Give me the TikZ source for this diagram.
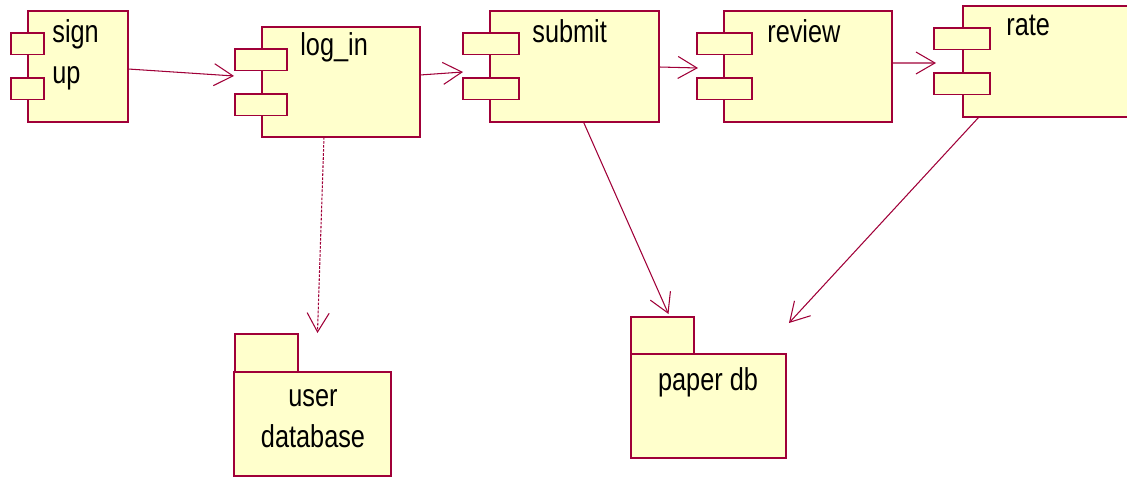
\documentclass[tikz,border=0pt]{standalone}
\usepackage{fontspec}
\setmainfont{Liberation Sans}[FakeStretch=0.8]
\usetikzlibrary{arrows.meta,calc}

\definecolor{roseline}{RGB}{160,0,56}
\definecolor{rosefill}{RGB}{255,255,204}

\begin{document}
\begin{tikzpicture}[
    x=0.02cm, y=-0.02cm,
    every node/.style={font=\fontsize{18}{23}\selectfont},
    body/.style={rectangle, draw=roseline, fill=rosefill, line width=1.1pt, anchor=north west, inner sep=0pt, outer sep=0pt},
    port/.style={body, minimum height=0.43cm},
    tab/.style={body, minimum width=1.26cm},
    lbl/.style={inner sep=0pt},
    arrow/.style={draw=roseline, line width=0.6pt, -{Straight Barb[length=3.8mm, width=4.4mm]}},
    dottedarrow/.style={arrow, dash pattern=on 1.5pt off 0.8pt}
]
\useasboundingbox (0,0) rectangle (1127,477);

% === Components ===
% sign up
\node[body, minimum width=2cm, minimum height=2.22cm] (signup) at (28,11) {};
\node[port, minimum width=0.66cm] (signupa) at (11,33) {};
\node[port, minimum width=0.66cm] (signupb) at (11,78) {};
\node[lbl, anchor=base west, align=left] (signuptext) at (52,83) {sign\\up};

% log_in
\node[body, minimum width=3.16cm, minimum height=2.2cm] (login) at (262,27) {};
\node[port, minimum width=1.04cm] (logina) at (235,49) {};
\node[port, minimum width=1.04cm] (loginb) at (235,94) {};
\node[lbl, anchor=base west] (logintext) at (300,55) {log\_in};

% submit
\node[body, minimum width=3.38cm, minimum height=2.22cm] (submit) at (490,11) {};
\node[port, minimum width=1.12cm] (submita) at (463,33) {};
\node[port, minimum width=1.12cm] (submitb) at (463,78) {};
\node[lbl, anchor=base west] (submittext) at (532,42) {submit};

% review
\node[body, minimum width=3.36cm, minimum height=2.22cm] (review) at (724,11) {};
\node[port, minimum width=1.1cm] (reviewa) at (697,33) {};
\node[port, minimum width=1.1cm] (reviewb) at (697,78) {};
\node[lbl, anchor=base west] (reviewtext) at (767,42) {review};

% rate
\node[body, minimum width=3.6cm, minimum height=2.22cm] (rate) at (963,6) {};
\node[port, minimum width=1.12cm] (ratea) at (934,28) {};
\node[port, minimum width=1.12cm] (rateb) at (934,73) {};
\node[lbl, anchor=base west] (ratetext) at (1006,35) {rate};

% === Packages ===
\node[tab, minimum height=0.76cm] (userdbtab) at (235,334) {};
\node[body, minimum width=3.14cm, minimum height=2.08cm] (userdb) at (234,372) {};
\node[lbl, anchor=base, align=center] (userdbtext) at (313,447) {user\\database};

\node[tab, minimum height=0.74cm] (paperdbtab) at (631,317) {};
\node[body, minimum width=3.1cm, minimum height=2.08cm] (paperdb) at (631,354) {};
\node[lbl, anchor=base] (paperdbtext) at (708,390) {paper db};

% === ARROWS ===
\draw[arrow] ($(signup.east)+(0,2.5)$) -- ($(login.west)+(-28,-6)$);
\draw[arrow] ($(login.east)+(0,-7)$) -- ($(submit.west)+(-27,5.5)$);
\draw[arrow] ($(submit.east)+(0,0.5)$) -- ($(review.west)+(-26,1.5)$);
\draw[arrow] ($(review.east)+(0,-3.5)$) -- ($(rate.west)+(-27,1.5)$);

% to the databases
\draw[dottedarrow] ($(login.south)+(-17,0)$) -- ($(userdb.north)+(5,-39)$);
\draw[arrow] ($(submit.south)+(9,0)$) -- ($(paperdb.north)+(-40,-40)$);
\draw[arrow] ($(rate.south west)+(16,0)$) -- ($(paperdb.north east)+(3,-31)$);

\end{tikzpicture}
\end{document}
